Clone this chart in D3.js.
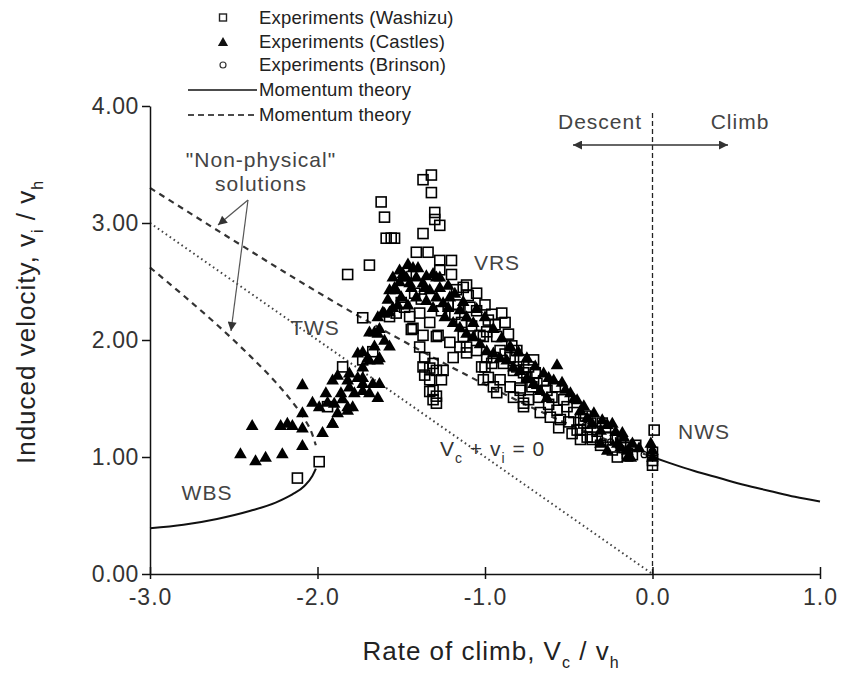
<!DOCTYPE html>
<html>
<head>
<meta charset="utf-8">
<script src="https://cdn.jsdelivr.net/npm/d3@7"></script>
<style>
	body { margin: 0; background: #fff; }
	svg text { font-family: "Liberation Sans", Arial, sans-serif; }
</style>
</head>
<body>
<div id="chart"></div>
<script>
const xTicks = [-3, -2, -1, 0, 1];
const yTicks = [0, 1, 2, 3, 4];

// momentum theory
const climbVc = [0, 0.1, 0.25, 0.4, 0.55, 0.7, 0.85, 1.0];
const climbVi = [1.0, 0.95, 0.88, 0.82, 0.76, 0.71, 0.66, 0.62];
const wbsVc   = [-3.0, -2.8, -2.6, -2.4, -2.25, -2.15, -2.08, -2.03, -2.01];
const wbsVi   = [0.39, 0.42, 0.47, 0.54, 0.61, 0.68, 0.75, 0.84, 0.90];
const lowVc   = [-3.0, -2.8, -2.6, -2.4, -2.25, -2.15, -2.08, -2.03, -2.01];
const lowVi   = [2.62, 2.38, 2.13, 1.86, 1.64, 1.47, 1.33, 1.19, 1.10];
const upVc    = [-3.0, -2.5, -2.0, -1.5, -1.0, -0.5, 0];
const upVi    = [3.30, 2.85, 2.41, 2.00, 1.62, 1.28, 1.0];
const idealVc = [-3, 0];
const idealVi = [3, 0];

const washizu = [
	[-1.32,3.41],[-1.37,3.37],[-1.32,3.26],[-1.62,3.18],[-1.60,3.05],[-1.30,3.09],[-1.30,3.03],[-1.27,2.98],
	[-1.59,2.87],[-1.56,2.87],[-1.54,2.87],[-1.37,2.91],[-1.41,2.75],[-1.34,2.75],[-1.27,2.68],[-1.20,2.68],
	[-1.69,2.64],[-1.82,2.56],[-1.27,2.60],[-1.20,2.56],[-1.13,2.45],[-1.10,2.38],[-1.47,2.57],[-1.73,2.19],
	[-1.57,2.20],[-1.44,2.09],[-1.37,2.04],[-1.29,2.03],[-1.39,1.94],[-1.37,1.77],[-1.33,1.76],[-1.29,1.74],
	[-1.25,1.74],[-1.33,1.66],[-1.31,1.57],[-1.31,1.49],[-1.11,1.89],[-1.15,1.94],[-1.85,1.77],[-1.73,1.83],
	[-1.67,1.90],[-1.94,1.43],[-1.99,0.96],[-2.12,0.82],[-1.50,2.32],[-1.48,2.28],[-1.53,2.23],[-1.39,2.23],
	[-1.43,2.10],[-1.33,2.15],[-1.28,2.04],[-0.90,2.23],[-0.88,2.15],[-0.94,2.13],[-0.98,2.17],[-0.99,2.07],
	[-1.03,2.04],[-1.14,2.15],[-1.13,2.03],[-1.11,1.94],[-1.36,1.85],[-1.31,1.80],[-1.36,1.70],[-1.26,1.66],
	[-1.33,1.56],[-1.29,1.52],[-1.29,1.46],[-1.05,1.91],[-0.99,1.85],[-1.02,1.77],[-0.96,1.80],[-0.98,1.68],
	[-0.91,1.66],[-0.93,1.55],[-0.85,1.60],[-0.79,1.59],[-0.77,1.43],[-0.83,1.51],[-0.89,1.80],[-0.81,1.77],
	[-0.77,1.83],[-0.75,1.68],[-0.81,1.91],[-0.93,2.03],[-1.01,2.03],[-0.95,1.85],[-0.91,1.91],[-1.01,1.66],
	[-0.95,1.60],[-1.00,1.77],[-0.85,1.85],[-0.83,1.74],[-0.77,1.72],[-0.79,1.57],[-0.77,1.46],[-0.71,1.83],
	[-0.70,1.72],[-0.69,1.63],[-0.68,1.51],[-0.74,1.49],[-0.67,1.38],[-0.61,1.34],[-0.55,1.32],[-0.57,1.40],
	[-0.63,1.57],[-0.60,1.51],[-0.53,1.49],[-0.51,1.43],[-0.47,1.38],[-0.43,1.32],[-0.43,1.23],[-0.43,1.15],
	[-0.37,1.29],[-0.36,1.17],[-0.30,1.29],[-0.27,1.17],[-0.24,1.06],[-0.21,1.00],[-0.15,1.03],[0.01,1.23],
	[0.00,0.97],[0.00,0.93],[-0.41,1.29],[-0.39,1.17],[-0.36,1.15],[-0.45,1.23],[-0.19,1.12],[0.00,1.04],
	[-1.09,2.28],[-1.16,2.30],[-1.17,2.43],[-1.05,2.40],[-1.11,2.47],
	[-1.22,2.30],[-1.18,2.22],[-1.05,2.25],[-1.00,2.30],[-0.96,2.22],[-1.08,2.12],[-0.86,2.05],[-0.84,1.95],
	[-0.88,1.88],[-0.74,1.77],[-0.72,1.60],[-0.65,1.65],[-0.62,1.45],[-0.58,1.60],[-0.56,1.25],[-0.50,1.30],
	[-0.48,1.20],[-0.40,1.35],[-0.33,1.22],[-0.31,1.10],[-0.28,1.25],[-0.22,1.16],[-0.17,1.08],[-0.12,1.02],
	[-0.10,1.10],[-1.42,2.40],[-1.38,2.35],[-1.26,2.25],[-1.45,2.20],[-1.21,1.98],[-1.19,1.85]
];

const castles = [
	[-2.39,1.27],[-2.22,1.27],[-2.18,1.29],[-2.15,1.27],[-2.09,1.62],[-2.09,1.38],[-2.09,1.25],[-2.46,1.03],
	[-2.37,0.97],[-2.31,1.00],[-2.21,1.03],[-2.09,1.10],[-2.03,1.47],[-1.99,1.43],[-1.94,1.47],[-1.91,1.29],
	[-1.97,1.21],[-1.90,1.46],[-1.85,1.50],[-1.82,1.43],[-1.88,1.38],[-1.91,1.66],[-1.88,1.70],[-1.82,1.66],
	[-1.81,1.60],[-1.76,1.68],[-1.73,1.63],[-1.69,1.55],[-1.64,1.51],[-1.63,1.63],[-1.76,1.89],[-1.73,1.90],
	[-1.69,1.83],[-1.64,1.83],[-1.63,1.85],[-1.64,2.06],[-1.63,2.10],[-1.61,2.24],[-1.57,2.24],[-1.55,2.28],
	[-1.57,2.43],[-1.54,2.45],[-1.51,2.50],[-1.48,2.54],[-1.45,2.49],[-1.41,2.54],[-1.51,2.60],[-1.49,2.57],
	[-1.37,2.49],[-1.33,2.43],[-1.29,2.37],[-1.25,2.32],[-1.29,2.54],[-1.27,2.45],[-1.21,2.37],[-1.15,2.26],
	[-1.11,2.20],[-1.07,2.15],[-1.55,2.54],[-1.47,2.54],[-1.53,2.43],[-1.44,2.45],[-1.41,2.37],[-1.50,2.37],
	[-1.60,2.23],[-1.64,2.20],[-1.66,2.07],[-1.69,2.07],[-1.70,1.85],[-1.73,1.77],[-1.81,1.72],[-1.73,1.68],
	[-1.67,1.63],[-1.73,1.57],[-1.79,1.43],[-1.91,1.29],[-1.82,1.40],[-1.35,2.34],[-1.31,2.28],[-1.24,2.20],
	[-1.19,2.15],[-1.31,2.57],[-1.27,2.54],[-1.15,2.11],[-1.11,2.06],[-1.07,2.03],[-1.03,1.97],[-0.99,1.91],
	[-0.95,1.89],[-0.91,1.85],[-0.87,1.83],[-0.83,1.77],[-0.79,1.74],[-0.75,1.68],[-0.57,1.79],[-0.59,1.66],
	[-0.54,1.64],[-0.49,1.55],[-0.45,1.49],[-0.43,1.40],[-0.39,1.34],[-0.36,1.29],[-0.31,1.23],[-0.24,1.29],
	[-0.18,1.21],[-0.21,1.12],[-0.15,1.06],[-0.13,1.00],[-0.31,1.12],[-0.27,1.06],[0.00,1.06],[0.00,1.00],
	[-0.67,1.57],[-0.63,1.51],[-0.71,1.63],[-0.01,1.12],[-0.19,1.09],[-0.15,1.00],
	[-1.40,2.62],[-1.35,2.55],[-1.22,2.47],[-1.18,2.40],[-1.13,2.33],[-1.05,2.27],[-1.00,2.20],[-0.95,2.10],
	[-0.90,2.02],[-0.85,1.95],[-0.80,1.90],[-0.75,1.85],[-0.70,1.78],[-0.65,1.72],[-0.62,1.68],[-0.52,1.58],
	[-0.47,1.50],[-0.41,1.44],[-0.35,1.38],[-0.30,1.32],[-0.27,1.28],[-0.22,1.22],[-0.17,1.17],[-0.12,1.12],
	[-0.08,1.08],[-1.58,2.35],[-1.52,2.30],[-1.46,2.30],[-1.43,2.62],[-1.46,2.65],[-1.36,2.45],[-1.22,2.28],
	[-1.60,2.00],[-1.57,1.95],[-1.66,1.95],[-1.78,1.55],[-1.86,1.55],[-1.95,1.55]
];

const brinson = [[-0.40,1.27],[-0.25,1.13],[-0.12,1.08],[-0.05,1.02],[0.00,1.05]];

const legendLabels = ["Experiments (Washizu)", "Experiments (Castles)", "Experiments (Brinson)", "Momentum theory", "Momentum theory"];

let canvasWidth  = 841;
let canvasHeight = 675;

let x = d3.scaleLinear().domain([-3, 1]).range([150, 820]);
let y = d3.scaleLinear().domain([0, 4]).range([574, 106]);

let svg = d3.select("#chart").append("svg")
	.attr("width", canvasWidth)
	.attr("height", canvasHeight);

let defs = svg.append("defs");
defs.append("marker")
	.attr("id", "head")
	.attr("viewBox", "0 0 10 10")
	.attr("refX", 10).attr("refY", 5)
	.attr("markerWidth", 12).attr("markerHeight", 9)
	.attr("markerUnits", "userSpaceOnUse")
	.attr("orient", "auto-start-reverse")
	.append("path").attr("d", "M0,0 L10,5 L0,10 Z").attr("fill", "#333");

let line = d3.line().x((o) => x(o[0])).y((o) => y(o[1])).curve(d3.curveMonotoneX);
let zip = (a, b) => a.map((v, i) => [v, b[i]]);

// theory lines
svg.append("path").attr("d", line(zip(climbVc, climbVi)))
	.attr("fill", "none").attr("stroke", "#111").attr("stroke-width", 2);
svg.append("path").attr("d", line(zip(wbsVc, wbsVi)))
	.attr("fill", "none").attr("stroke", "#111").attr("stroke-width", 2);
svg.append("path").attr("d", line(zip(upVc, upVi)))
	.attr("fill", "none").attr("stroke", "#333").attr("stroke-width", 2.2).attr("stroke-dasharray", "6,5");
svg.append("path").attr("d", line(zip(lowVc, lowVi)))
	.attr("fill", "none").attr("stroke", "#333").attr("stroke-width", 2.2).attr("stroke-dasharray", "6,5");
svg.append("path").attr("d", d3.line().x((o) => x(o[0])).y((o) => y(o[1]))(zip(idealVc, idealVi)))
	.attr("fill", "none").attr("stroke", "#444").attr("stroke-width", 2).attr("stroke-dasharray", "1.6,3.2");

// descent / climb divide
svg.append("line")
	.attr("x1", x(0)).attr("x2", x(0))
	.attr("y1", y(3.94)).attr("y2", y(0))
	.attr("stroke", "#222").attr("stroke-width", 1.3).attr("stroke-dasharray", "5,3");

// axes
let yAxis = svg.append("g")
	.attr("transform", "translate(" + x(-3) + ",0)")
	.call(d3.axisLeft(y).tickValues(yTicks).tickFormat((d) => d.toFixed(2)).tickSize(8).tickSizeOuter(0).tickPadding(3));
yAxis.select(".domain").attr("stroke", "#111").attr("stroke-width", 1.5);
yAxis.selectAll(".tick line").attr("stroke", "#111").attr("stroke-width", 1.5);
yAxis.selectAll(".tick text").attr("font-size", 23).attr("letter-spacing", 0.6).attr("fill", "#333").attr("font-family", null);

let xAxis = svg.append("g")
	.attr("transform", "translate(0," + y(0) + ")")
	.call(d3.axisBottom(x).tickValues(xTicks).tickFormat((d) => d.toFixed(1)).tickSizeOuter(0));
xAxis.select(".domain").attr("stroke", "#111").attr("stroke-width", 1.5);
xAxis.selectAll(".tick line").attr("y1", -7).attr("y2", 5).attr("stroke", "#111").attr("stroke-width", 1.5);
xAxis.selectAll(".tick text").attr("y", 15).attr("font-size", 23).attr("letter-spacing", 1).attr("fill", "#333").attr("font-family", null);

// markers
svg.append("g").selectAll("path").data(castles).enter().append("path")
	.attr("d", d3.symbol().type(d3.symbolTriangle).size(70))
	.attr("transform", (o) => "translate(" + x(o[0]) + "," + (y(o[1]) + 1) + ")")
	.attr("fill", "#000");

svg.append("g").selectAll("rect").data(washizu).enter().append("rect")
	.attr("x", (o) => x(o[0]) - 5).attr("y", (o) => y(o[1]) - 5)
	.attr("width", 10).attr("height", 10)
	.attr("fill", "none").attr("stroke", "#000").attr("stroke-width", 1.6);

svg.append("g").selectAll("circle").data(brinson).enter().append("circle")
	.attr("cx", (o) => x(o[0])).attr("cy", (o) => y(o[1])).attr("r", 3)
	.attr("fill", "none").attr("stroke", "#000").attr("stroke-width", 1.2);

// legend
let legendY = [18, 42, 65, 90, 115];
let legend = svg.append("g");
legend.append("rect").attr("x", 219.5).attr("y", legendY[0] - 4).attr("width", 7).attr("height", 7)
	.attr("fill", "none").attr("stroke", "#222").attr("stroke-width", 1.4);
legend.append("path").attr("d", d3.symbol().type(d3.symbolTriangle).size(45))
	.attr("transform", "translate(223," + (legendY[1] + 1) + ")").attr("fill", "#111");
legend.append("circle").attr("cx", 223).attr("cy", legendY[2]).attr("r", 3)
	.attr("fill", "none").attr("stroke", "#333").attr("stroke-width", 1.2);
legend.append("line").attr("x1", 188).attr("x2", 257).attr("y1", legendY[3]).attr("y2", legendY[3])
	.attr("stroke", "#111").attr("stroke-width", 1.6);
legend.append("line").attr("x1", 188).attr("x2", 257).attr("y1", legendY[4]).attr("y2", legendY[4])
	.attr("stroke", "#111").attr("stroke-width", 1.6).attr("stroke-dasharray", "6,4");
legend.selectAll("text").data(legendLabels).enter().append("text")
	.attr("x", 259).attr("y", (o, i) => legendY[i] + 6)
	.attr("font-size", 18.5).attr("letter-spacing", 0.2).attr("fill", "#222")
	.text((o) => o);

// axis titles
let yt = svg.append("text")
	.attr("transform", "translate(35,322) rotate(-90)")
	.attr("text-anchor", "middle").attr("font-size", 26).attr("letter-spacing", 1).attr("fill", "#222");
yt.append("tspan").text("Induced velocity, v");
yt.append("tspan").attr("dy", 8).attr("font-size", 16).text("i");
yt.append("tspan").attr("dy", -8).text(" / v");
yt.append("tspan").attr("dy", 8).attr("font-size", 16).text("h");

let xt = svg.append("text")
	.attr("x", 491).attr("y", 660)
	.attr("text-anchor", "middle").attr("font-size", 26).attr("letter-spacing", 1).attr("fill", "#222");
xt.append("tspan").text("Rate of climb, V");
xt.append("tspan").attr("dy", 8).attr("font-size", 16).text("c");
xt.append("tspan").attr("dy", -8).text(" / v");
xt.append("tspan").attr("dy", 8).attr("font-size", 16).text("h");

// annotations
let note = (tx, ty, s) => svg.append("text").attr("x", tx).attr("y", ty)
	.attr("text-anchor", "middle").attr("font-size", 21).attr("letter-spacing", 1).attr("fill", "#444").text(s);
note(497, 270, "VRS");
note(315, 335, "TWS");
note(207, 500, "WBS");
note(704, 439, "NWS");
note(600, 129, "Descent");
note(740, 129, "Climb");
note(261, 167, "\"Non-physical\"");
note(261, 191, "solutions");

let vt = svg.append("text").attr("x", 440).attr("y", 456).attr("font-size", 21).attr("letter-spacing", 1).attr("fill", "#333");
vt.append("tspan").text("V");
vt.append("tspan").attr("dy", 7).attr("font-size", 14).text("c");
vt.append("tspan").attr("dy", -7).text(" + v");
vt.append("tspan").attr("dy", 7).attr("font-size", 14).text("i");
vt.append("tspan").attr("dy", -7).text(" = 0");

// arrows
svg.append("line").attr("x1", 573).attr("x2", 728).attr("y1", 145).attr("y2", 145)
	.attr("stroke", "#333").attr("stroke-width", 1.6)
	.attr("marker-start", "url(#head)").attr("marker-end", "url(#head)");
svg.append("line").attr("x1", 248).attr("y1", 200).attr("x2", 218).attr("y2", 225)
	.attr("stroke", "#555").attr("stroke-width", 1.2).attr("marker-end", "url(#head)");
svg.append("line").attr("x1", 248).attr("y1", 200).attr("x2", 231).attr("y2", 331)
	.attr("stroke", "#555").attr("stroke-width", 1.2).attr("marker-end", "url(#head)");
</script>
</body>
</html>
